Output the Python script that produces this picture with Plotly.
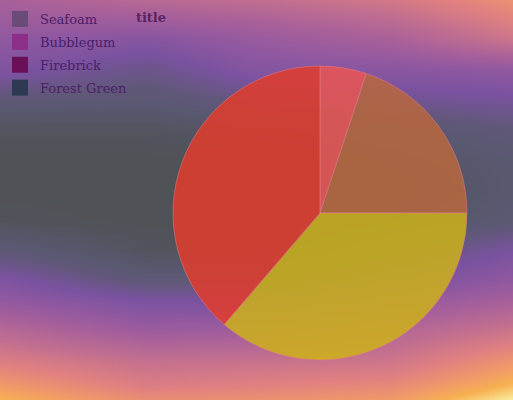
import plotly.graph_objects as go

# ---- chart data ----
labels = ["Seafoam", "Bubblegum", "Firebrick", "Forest Green"]
values = [5.1, 19.9, 36.3, 38.7]
slice_colors = ["rgba(235,86,82,0.85)", "rgba(185,103,61,0.85)",
                "rgba(205,178,25,0.85)", "rgba(226,60,44,0.85)"]
legend_colors = ["#6a4a78", "#8c2f8a", "#6a1058", "#2e3a52"]
title_text = "title"

# ---- decorative background gradient (levels) ----
bg_x = [0, 146, 256, 390, 513]
bg_y = [0, 20, 40, 70, 100, 130, 160, 190, 220, 250, 280, 300, 330, 360, 385, 400]
bg_col_0 = [0.55, 0.50, 0.45, 0.38, 0.20, 0.05, 0.0, 0.0, 0.03, 0.20, 0.38, 0.46, 0.62, 0.75, 0.86, 0.92]
bg_col_146 = [0.62, 0.52, 0.40, 0.27, 0.18, 0.05, 0.0, 0.0, 0.0, 0.05, 0.20, 0.35, 0.50, 0.67, 0.75, 0.82]
bg_col_256 = [0.66, 0.56, 0.48, 0.40, 0.25, 0.10, 0.0, 0.0, 0.0, 0.05, 0.20, 0.35, 0.52, 0.68, 0.77, 0.83]
bg_col_390 = [0.72, 0.64, 0.55, 0.42, 0.30, 0.15, 0.08, 0.05, 0.08, 0.20, 0.35, 0.45, 0.60, 0.70, 0.80, 0.86]
bg_col_513 = [0.83, 0.77, 0.70, 0.45, 0.33, 0.22, 0.16, 0.15, 0.18, 0.35, 0.45, 0.55, 0.70, 0.84, 0.93, 1.00]
bg_columns = [bg_col_0, bg_col_146, bg_col_256, bg_col_390, bg_col_513]
bg_z = [[col[i] for col in bg_columns] for i in range(len(bg_y))]
bg_scale = [
    [0.00, "#4f5256"], [0.15, "#585870"], [0.22, "#605878"], [0.35, "#7a52a0"],
    [0.45, "#9058a0"], [0.55, "#a8609a"], [0.66, "#c06e90"], [0.77, "#e08080"],
    [0.86, "#f09a68"], [0.92, "#f8b050"], [1.00, "#f8f0a0"],
]

fig = go.Figure()

fig.add_trace(go.Heatmap(
    x=bg_x, y=bg_y, z=bg_z, colorscale=bg_scale, zmin=0, zmax=1,
    zsmooth="best", showscale=False, hoverinfo="skip", showlegend=False,
))

for name, col in zip(labels, legend_colors):
    fig.add_trace(go.Scatter(
        x=[None], y=[None], mode="markers", name=name, legendgroup=name,
        marker=dict(symbol="square", size=16, color=col, line=dict(width=0)),
        hoverinfo="skip",
    ))

fig.add_trace(go.Pie(
    labels=labels, values=values, sort=False, direction="clockwise", rotation=0,
    marker=dict(colors=slice_colors, line=dict(color="rgba(225,120,140,0.55)", width=1)),
    textinfo="none", showlegend=False, hoverinfo="label+percent",
    domain=dict(x=[173 / 513, 467 / 513], y=[40 / 400, 334 / 400]),
))

fig.update_layout(
    width=513, height=400,
    margin=dict(l=0, r=0, t=0, b=0),
    paper_bgcolor="#4f5256", plot_bgcolor="rgba(0,0,0,0)",
    xaxis=dict(range=[0, 513], visible=False, domain=[0, 1], fixedrange=True),
    yaxis=dict(range=[400, 0], visible=False, domain=[0, 1], fixedrange=True),
    title=dict(text="<b>" + title_text + "</b>", x=151 / 513, xanchor="center",
               y=1 - 17 / 400, yanchor="middle", yref="container",
               font=dict(family="DejaVu Serif", size=13, color="#5a2460")),
    legend=dict(x=0, y=1 - 4 / 400, xanchor="left", yanchor="top",
                bgcolor="rgba(0,0,0,0)",
                traceorder="grouped", tracegroupgap=3,
                font=dict(family="DejaVu Serif", size=13, color="#4a2068")),
    showlegend=True,
)

fig.write_html("out.html")
